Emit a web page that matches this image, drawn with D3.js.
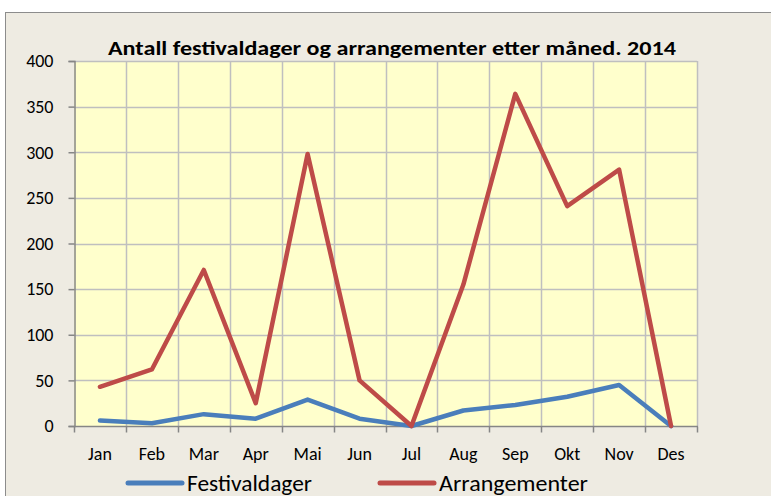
<!DOCTYPE html>
<html>
<head>
<meta charset="utf-8">
<script src="https://cdn.jsdelivr.net/npm/d3@7"></script>
<style>
  body { margin: 0; background: #ffffff; }
  text { font-family: Carlito, Lato, "Open Sans", sans-serif; fill: #000; }
</style>
</head>
<body>
<div id="chart"></div>
<script>
// Data
const months = ["Jan", "Feb", "Mar", "Apr", "Mai", "Jun", "Jul", "Aug", "Sep", "Okt", "Nov", "Des"];
const festivaldager = [6, 3, 13, 8, 29, 8, 0, 17, 23, 32, 45, 0];
const arrangementer = [43, 62, 171, 25, 298, 50, 0, 155, 364, 241, 281, 0];
const yTicks = [0, 50, 100, 150, 200, 250, 300, 350, 400];

const seriesList = [
    { name: "Festivaldager", values: festivaldager, color: "#4A7EBB" },
    { name: "Arrangementer", values: arrangementer, color: "#BE4B48" }
];

const width = 771;
const height = 496;
const plot = { left: 74, right: 697, top: 61, bottom: 426 };

const svg = d3.select("#chart").append("svg")
    .attr("width", width)
    .attr("height", height);

// Outer chart area
svg.append("rect")
    .attr("x", 5.5).attr("y", 12.5)
    .attr("width", width).attr("height", height)
    .attr("fill", "#EEEBE2")
    .attr("stroke", "#8C8C8C")
    .attr("stroke-width", 1);

// Plot background
svg.append("rect")
    .attr("x", plot.left).attr("y", plot.top)
    .attr("width", plot.right - plot.left)
    .attr("height", plot.bottom - plot.top)
    .attr("fill", "#FFFFCC");

// Scales
const xBand = d3.scaleBand()
    .domain(months)
    .range([plot.left, plot.right]);

const yScale = d3.scaleLinear()
    .domain([0, 400])
    .range([plot.bottom, plot.top]);

const xCenter = m => xBand(m) + xBand.bandwidth() / 2;

// Gridlines
const grid = svg.append("g").attr("class", "grid");
yTicks.slice(1).forEach(t => {
    grid.append("line")
        .attr("x1", plot.left).attr("x2", plot.right)
        .attr("y1", Math.round(yScale(t)) + 0.5).attr("y2", Math.round(yScale(t)) + 0.5)
        .attr("stroke", "#BFBFBF").attr("stroke-width", 1.5);
});
months.forEach((m, i) => {
    const x = Math.round(xBand(m) + xBand.bandwidth()) + 0.5;
    grid.append("line")
        .attr("x1", x).attr("x2", x)
        .attr("y1", plot.top).attr("y2", plot.bottom)
        .attr("stroke", "#BFBFBF").attr("stroke-width", 1.5);
});

// Y axis
const yAxis = svg.append("g")
    .attr("class", "y-axis")
    .attr("transform", `translate(${plot.left + 0.5}, 0)`)
    .call(d3.axisLeft(yScale).tickValues(yTicks).tickSize(6).tickPadding(15));

// X axis: ticks at category boundaries
const boundaries = d3.range(months.length + 1).map(i => plot.left + i * xBand.bandwidth());
const xAxis = svg.append("g")
    .attr("class", "x-axis")
    .attr("transform", `translate(0, ${plot.bottom + 0.5})`);
xAxis.append("line")
    .attr("x1", plot.left).attr("x2", plot.right + 1)
    .attr("stroke", "#868686").attr("stroke-width", 1.5);
boundaries.forEach(b => {
    xAxis.append("line")
        .attr("x1", Math.round(b) + 0.5).attr("x2", Math.round(b) + 0.5)
        .attr("y1", 0).attr("y2", 6)
        .attr("stroke", "#868686").attr("stroke-width", 1.5);
});
xAxis.selectAll(".month")
    .data(months)
    .join("text")
    .attr("class", "month")
    .attr("x", d => xCenter(d))
    .attr("y", 33)
    .attr("text-anchor", "middle")
    .style("font-size", "18px")
    .text(d => d);

yAxis.select(".domain").attr("stroke", "#868686").attr("stroke-width", 1.5);
yAxis.selectAll(".tick line").attr("stroke", "#868686").attr("stroke-width", 1.5);
yAxis.selectAll(".tick text")
    .style("font-size", "18px")
    .style("font-family", "Carlito, Lato, 'Open Sans', sans-serif")
    .attr("fill", "#000");

// Lines
const line = d3.line()
    .x((d, i) => xCenter(months[i]))
    .y(d => yScale(d));

seriesList.forEach(s => {
    svg.append("path")
        .datum(s.values)
        .attr("fill", "none")
        .attr("stroke", s.color)
        .attr("stroke-width", 4.5)
        .attr("stroke-linejoin", "round")
        .attr("stroke-linecap", "round")
        .attr("d", line);
});

// Title
svg.append("text")
    .attr("x", 392)
    .attr("y", 55)
    .attr("text-anchor", "middle")
    .attr("textLength", 568)
    .attr("lengthAdjust", "spacingAndGlyphs")
    .style("font-size", "21px")
    .style("font-weight", "bold")
    .text("Antall festivaldager og arrangementer etter måned. 2014");

// Legend
const legendItems = [
    { name: "Festivaldager", color: "#4A7EBB", x: 128, textLen: 125 },
    { name: "Arrangementer", color: "#BE4B48", x: 380, textLen: 149 }
];
const legend = svg.append("g").attr("class", "legend");
legendItems.forEach(d => {
    legend.append("line")
        .attr("x1", d.x).attr("x2", d.x + 54)
        .attr("y1", 483).attr("y2", 483)
        .attr("stroke", d.color)
        .attr("stroke-width", 5)
        .attr("stroke-linecap", "round");
    legend.append("text")
        .attr("x", d.x + 59)
        .attr("y", 491)
        .attr("textLength", d.textLen)
        .attr("lengthAdjust", "spacingAndGlyphs")
        .style("font-size", "22px")
        .text(d.name);
});
</script>
</body>
</html>
